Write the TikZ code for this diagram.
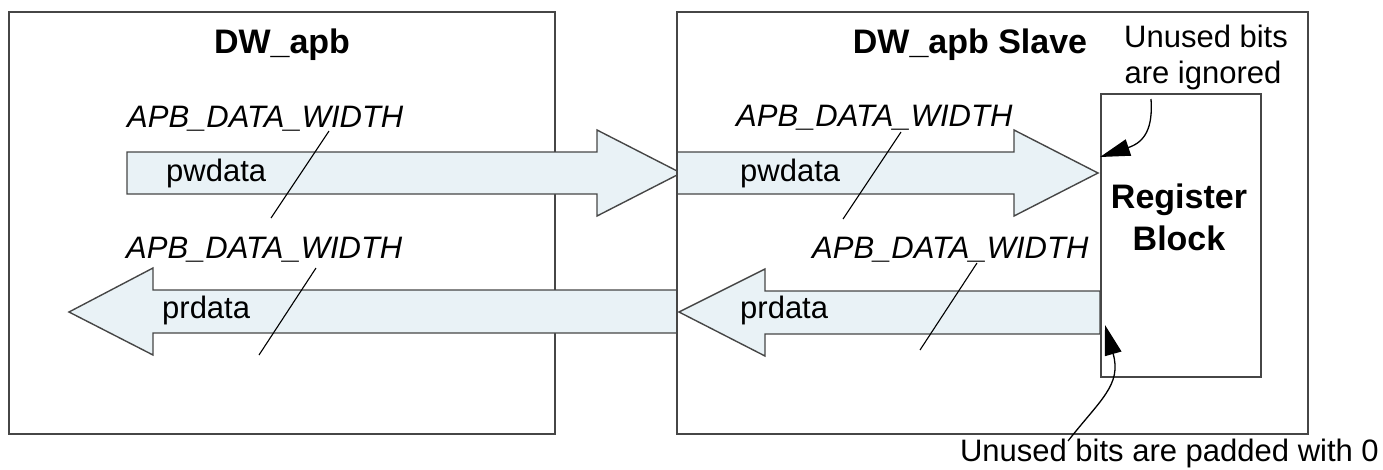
\documentclass[tikz,border=0pt]{standalone}
\usepackage{fontspec}
\setmainfont{Liberation Sans}
\usetikzlibrary{arrows.meta}
\definecolor{linegray}{RGB}{70,70,70}
\definecolor{arrowfill}{RGB}{233,242,246}
\tikzset{
  boxstyle/.style={draw=linegray, line width=1.6pt, fill=none},
  bigarrow/.style={draw=linegray, line width=1.4pt, fill=arrowfill, line join=miter},
  slash/.style={draw=black, line width=1.1pt},
  callout/.style={draw=black, line width=1.3pt, -{Triangle[length=30pt,width=17pt]}},
  title/.style={font=\fontsize{34}{40}\selectfont\bfseries, inner sep=0pt},
  lbl/.style={font=\fontsize{31}{37}\selectfont, inner sep=0pt},
  ilbl/.style={font=\fontsize{31}{37}\selectfont\itshape, inner sep=0pt},
}
\begin{document}
\begin{tikzpicture}[x=1pt,y=-1pt]
\useasboundingbox (0,0) rectangle (1383,469);
% left box
\draw[boxstyle] (9,12) rectangle (555,434);
\node[title, anchor=base] (dwapb) at (282,53) {DW\_apb};
% arrows
\draw[bigarrow] (127,152) -- (597,152) -- (597,130) -- (681,173) -- (597,216) -- (597,194) -- (127,194) -- cycle;
\draw[bigarrow] (677,152) -- (1014,152) -- (1014,130) -- (1098,173) -- (1014,216) -- (1014,194) -- (677,194) -- cycle;
\draw[bigarrow] (677,290) -- (153,290) -- (153,268) -- (69,312) -- (153,355) -- (153,333) -- (677,333) -- cycle;
\draw[bigarrow] (1100,291) -- (765,291) -- (765,269) -- (679,312) -- (765,356) -- (765,334) -- (1100,334) -- cycle;
% right box and register block
\draw[boxstyle] (677,12) rectangle (1308,434);
\node[boxstyle, minimum width=160pt, minimum height=283pt, inner sep=0pt, anchor=north west] (reg) at (1100,93) {};
\node[title, anchor=base] (slave) at (970,53) {DW\_apb Slave};
\node[title, anchor=base] (regt) at (1179,208) {Register};
\node[title, anchor=base] (blockt) at (1179,250) {Block};
% labels
\node[ilbl, anchor=base west] (w1) at (127,127) {APB\_DATA\_WIDTH};
\node[lbl, anchor=base west] (pw1) at (166,181) {pwdata};
\node[ilbl, anchor=base west] (w2) at (126,258) {APB\_DATA\_WIDTH};
\node[lbl, anchor=base west] (pr1) at (162,318) {prdata};
\node[ilbl, anchor=base west] (w3) at (736,126) {APB\_DATA\_WIDTH};
\node[lbl, anchor=base west] (pw2) at (740,181) {pwdata};
\node[ilbl, anchor=base west] (w4) at (812,258) {APB\_DATA\_WIDTH};
\node[lbl, anchor=base west] (pr2) at (740,318) {prdata};
\node[lbl, anchor=base] (ub) at (1206,47) {Unused bits};
\node[lbl, anchor=base] (ai) at (1203,83) {are ignored};
\node[lbl, anchor=base east] (pad) at (1379,461) {Unused bits are padded with 0};
% slashes
\coordinate (s1a) at (329,131); \coordinate (s1b) at (271,218);
\coordinate (s2a) at (316,268); \coordinate (s2b) at (259,355);
\coordinate (s3a) at (901,132); \coordinate (s3b) at (843,219);
\coordinate (s4a) at (977,263); \coordinate (s4b) at (920,350);
\draw[slash] (s1a) -- (s1b);
\draw[slash] (s2a) -- (s2b);
\draw[slash] (s3a) -- (s3b);
\draw[slash] (s4a) -- (s4b);
% callouts
\coordinate (c1s) at (1151,99); \coordinate (c1e) at (1100,157);
\coordinate (c2s) at (1068,441); \coordinate (c2e) at (1105,325);
\draw[callout] (c1s) .. controls (1153,128) and (1145,142) .. (c1e);
\draw[callout] (c2s) .. controls (1100,400) and (1122,385) .. (c2e);
\end{tikzpicture}
\end{document}
